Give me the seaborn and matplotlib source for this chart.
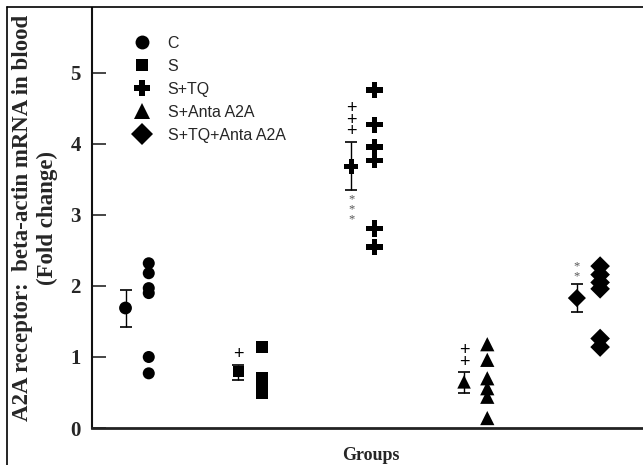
import numpy as np
import pandas as pd
import matplotlib
matplotlib.use("Agg")
import matplotlib.pyplot as plt
from matplotlib.lines import Line2D
import seaborn as sns

# ---------------- data ----------------
groups = ["C", "S", "S+TQ", "S+Anta A2A", "S+TQ+Anta A2A"]
markers = ["o", "s", "P", "^", "D"]
vals_C = [2.32, 2.18, 1.97, 1.90, 1.00, 0.77]
vals_S = [1.14, 0.71, 0.65, 0.59, 0.54, 0.49]
vals_STQ = [4.76, 4.27, 3.96, 3.77, 2.81, 2.55]
vals_SAnta = [1.18, 0.96, 0.70, 0.56, 0.44, 0.14]
vals_STQAnta = [2.28, 2.16, 2.05, 1.96, 1.26, 1.14]
means = [1.69, 0.79, 3.68, 0.65, 1.83]
err_hi = [1.94, 0.89, 4.03, 0.79, 2.03]
err_lo = [1.42, 0.67, 3.35, 0.49, 1.64]
sig_above = ["", "+", "+\n+\n+", "+\n+", "*\n*"]
sig_below = ["", "", "*\n*\n*", "", ""]
yticks = [0, 1, 2, 3, 4, 5]
ylabel = "A2A receptor:  beta-actin mRNA in blood\n(Fold change)"
xlabel = "Groups"

all_vals = [vals_C, vals_S, vals_STQ, vals_SAnta, vals_STQAnta]
rows = []
for i, (g, v) in enumerate(zip(groups, all_vals)):
    for y in v:
        rows.append({"group": g, "pos": i + 0.103, "value": y})
df = pd.DataFrame(rows)
mdf = pd.DataFrame({"group": groups, "pos": np.arange(len(groups)) - 0.103,
                    "value": means})

# ---------------- figure ----------------
W, H = 643, 465
fig = plt.figure(figsize=(W / 100, H / 100), dpi=100)
sns.set_style("white")
ax = fig.add_axes([92 / W, 1 - 428 / H, (W - 92) / W + 0.01, (428 - 8) / H])

sizes = {"C": 75, "S": 75, "S+TQ": 135, "S+Anta A2A": 105, "S+TQ+Anta A2A": 100}
msizes = {"C": 85, "S": 64, "S+TQ": 110, "S+Anta A2A": 95, "S+TQ+Anta A2A": 85}
mk = dict(zip(groups, markers))
sns.scatterplot(data=df, x="pos", y="value", style="group", markers=mk,
                size="group", sizes=sizes, color="black", edgecolor="none",
                legend=False, ax=ax, zorder=3)

for i in range(len(groups)):
    x = i - 0.103
    ax.errorbar([x], [means[i]],
                yerr=[[means[i] - err_lo[i]], [err_hi[i] - means[i]]],
                fmt="none", ecolor="black",
                elinewidth=1.0, capsize=4, capthick=1.2, zorder=2)
    if sig_above[i]:
        is_star = "*" in sig_above[i]
        if is_star:
            ax.annotate(sig_above[i], (x, err_hi[i]), xytext=(0, 1),
                        textcoords="offset points", ha="center", va="bottom",
                        fontsize=9, linespacing=0.8, color="#555555",
                        family="Liberation Serif")
        else:
            ax.annotate(sig_above[i], (x, err_hi[i]), xytext=(0, 1),
                        textcoords="offset points", ha="center", va="bottom",
                        fontsize=13, linespacing=0.58, color="black",
                        family="Liberation Sans")
    if sig_below[i]:
        ax.annotate(sig_below[i], (x, err_lo[i]), xytext=(0, -2),
                    textcoords="offset points", ha="center", va="top",
                    fontsize=9, linespacing=0.8, color="#555555",
                    family="Liberation Serif")

sns.scatterplot(data=mdf, x="pos", y="value", style="group", markers=mk,
                size="group", sizes=msizes, color="black", edgecolor="none",
                legend=False, ax=ax, zorder=4)

ax.set_xlim(-0.40, 4.54)
ax.set_ylim(0, 5.915)
ax.set_xticks([])
ax.set_xlabel("")
ax.set_yticks(yticks)
ax.set_yticklabels([str(t) for t in yticks], fontsize=15, fontweight="bold",
                   family="Liberation Serif")
ax.tick_params(axis="y", direction="in", length=10, width=1.2, pad=8, left=True)
for s in ["top", "right"]:
    ax.spines[s].set_visible(False)
ax.spines["left"].set_linewidth(1.5)
ax.spines["bottom"].set_linewidth(2.0)
ax.spines["left"].set_color("#111111")
ax.spines["bottom"].set_color("#222222")
ax.set_xlabel(xlabel, fontsize=13, fontweight="bold", family="Liberation Serif",
              labelpad=14)
ax.set_ylabel(ylabel, fontsize=16.5, fontweight="bold", family="Liberation Serif",
              linespacing=1.25, labelpad=9)

handles = [Line2D([], [], marker=m, color="black", ls="none", ms=ms, mew=0)
           for m, ms in zip(markers, [10, 9, 12, 11, 11])]
leg = ax.legend(handles, groups, loc="upper left", frameon=False,
                bbox_to_anchor=(126 / W, 1 - 36 / H), bbox_transform=fig.transFigure,
                borderpad=0, borderaxespad=0, handlelength=2.0, handletextpad=0.6,
                labelspacing=0.5, prop={"family": "Liberation Sans", "size": 11.5})

# figure frame (left & top)
fig.add_artist(Line2D([7 / W, 7 / W], [0, 1 - 7 / H], transform=fig.transFigure,
                      color="black", lw=1.2))
fig.add_artist(Line2D([7 / W, 1], [1 - 7 / H, 1 - 7 / H], transform=fig.transFigure,
                      color="black", lw=1.2))

fig.savefig("out.png", dpi=100)
